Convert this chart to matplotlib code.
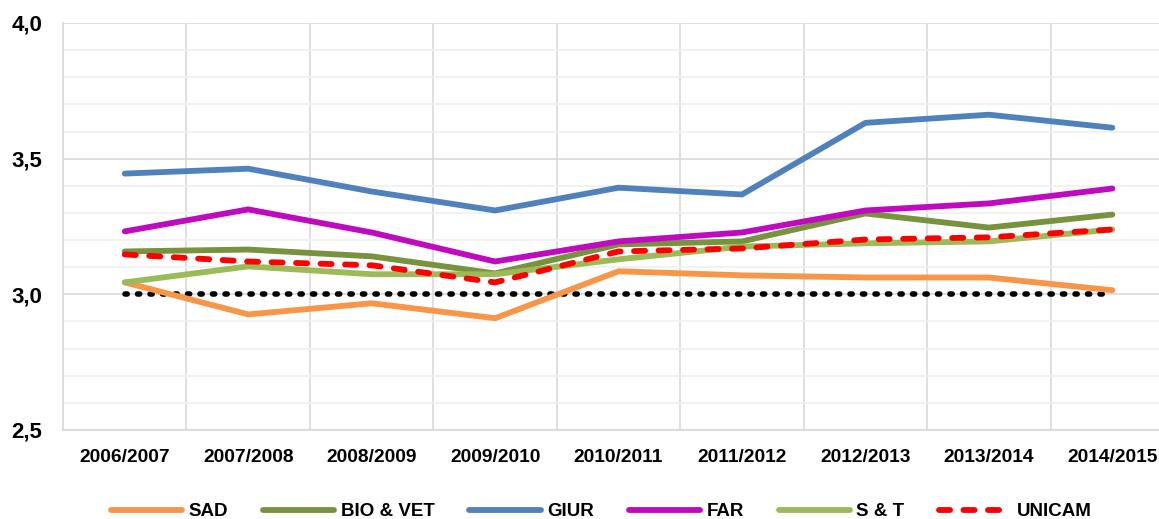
import numpy as np
import matplotlib.pyplot as plt
from matplotlib.ticker import MultipleLocator, FuncFormatter

anni = ['2006/2007', '2007/2008', '2008/2009', '2009/2010', '2010/2011',
        '2011/2012', '2012/2013', '2013/2014', '2014/2015']

sad = [3.044, 2.926, 2.967, 2.912, 3.085, 3.070, 3.062, 3.062, 3.015]
bio_vet = [3.158, 3.165, 3.140, 3.077, 3.184, 3.195, 3.298, 3.246, 3.294]
giur = [3.445, 3.463, 3.379, 3.309, 3.393, 3.368, 3.632, 3.662, 3.614]
far = [3.232, 3.313, 3.228, 3.121, 3.195, 3.228, 3.309, 3.335, 3.390]
s_t = [3.044, 3.103, 3.074, 3.074, 3.129, 3.176, 3.188, 3.195, 3.239]
unicam = [3.147, 3.121, 3.107, 3.044, 3.158, 3.169, 3.202, 3.210, 3.239]
soglia = [3.0] * len(anni)

plt.rcParams['font.family'] = ['Liberation Sans', 'DejaVu Sans']
plt.rcParams['font.weight'] = 'bold'

fig = plt.figure(figsize=(11.59, 5.19), dpi=100)
ax = fig.add_axes([0.0544, 0.1715, 0.9586, 0.7842])
x = np.arange(len(anni))

lw = 4.2
ax.plot(x, soglia, color='black', linestyle=(0, (0.4, 1.85)), lw=4,
        dash_capstyle='round', zorder=2)
ax.plot(x, sad, color='#F79646', lw=lw, label='SAD', solid_capstyle='round', zorder=3)
ax.plot(x, bio_vet, color='#77933C', lw=lw, label='BIO & VET', solid_capstyle='round', zorder=3)
ax.plot(x, giur, color='#4F81BD', lw=lw, label='GIUR', solid_capstyle='round', zorder=3)
ax.plot(x, far, color='#C00AC0', lw=lw, label='FAR', solid_capstyle='round', zorder=3)
ax.plot(x, s_t, color='#9BBB59', lw=lw, label='S & T', solid_capstyle='round', zorder=3)
ax.plot(x, unicam, color='#FF0000', lw=lw, label='UNICAM', linestyle=(0, (1.9, 2.3)),
        dash_capstyle='round', zorder=4)

ax.set_xlim(-0.5, len(anni) - 0.5)
ax.set_ylim(2.5, 4.0)
ax.set_xticks(x)
ax.set_xticklabels(anni)
ax.yaxis.set_major_locator(MultipleLocator(0.5))
ax.yaxis.set_minor_locator(MultipleLocator(0.1))
ax.yaxis.set_major_formatter(FuncFormatter(lambda v, p: f'{v:.1f}'.replace('.', ',')))

ax.set_xticks(np.arange(-0.5, len(anni), 1), minor=True)
ax.grid(which='major', axis='y', color='#D9D9D9', lw=1.2, zorder=0)
ax.grid(which='minor', axis='y', color='#F0F0F0', lw=1.2, zorder=0)
ax.grid(which='minor', axis='x', color='#D9D9D9', lw=1.2, zorder=0)
ax.grid(which='major', axis='x', visible=False)

for s in ['top', 'right']:
    ax.spines[s].set_visible(False)
for s in ['left', 'bottom']:
    ax.spines[s].set_color('#D9D9D9')
    ax.spines[s].set_linewidth(1.2)

ax.tick_params(which='both', length=0)
ax.tick_params(axis='y', labelsize=16, pad=15)
ax.tick_params(axis='x', labelsize=13.8, pad=14)

leg = fig.legend(loc='lower center', ncol=6, frameon=False, fontsize=13.5,
                 handlelength=3.8, columnspacing=1.85, handletextpad=0.35,
                 bbox_to_anchor=(0.519, -0.035))

fig.savefig('out.png', dpi=100)
